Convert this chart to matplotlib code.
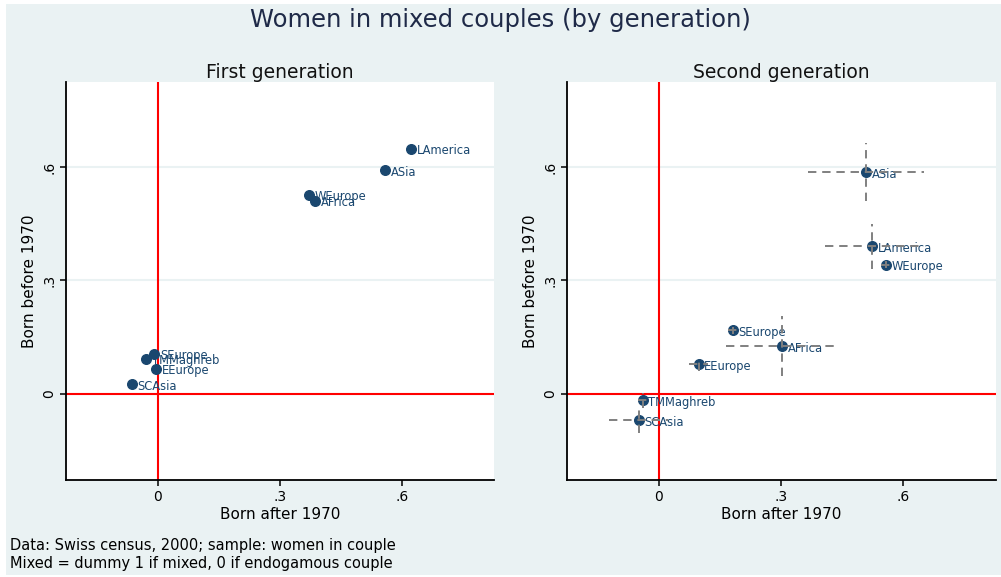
import matplotlib.pyplot as plt
from matplotlib.patches import Rectangle

# first generation: point estimates
names1 = ["LAmerica", "ASia", "WEurope", "AFrica", "SEurope", "TMMaghreb", "EEurope", "SCAsia"]
after1 = [0.623, 0.560, 0.372, 0.388, -0.008, -0.028, -0.004, -0.063]
before1 = [0.649, 0.591, 0.527, 0.511, 0.106, 0.093, 0.067, 0.026]

# second generation: point estimates and half-width of the intervals
names2 = ["ASia", "LAmerica", "WEurope", "SEurope", "AFrica", "EEurope", "TMMaghreb", "SCAsia"]
after2 = [0.509, 0.523, 0.557, 0.181, 0.303, 0.098, -0.039, -0.049]
before2 = [0.586, 0.390, 0.342, 0.168, 0.126, 0.079, -0.017, -0.070]
xerr2 = [0.142, 0.116, 0.012, 0.012, 0.137, 0.023, 0.012, 0.072]
yerr2 = [0.077, 0.060, 0.010, 0.010, 0.079, 0.019, 0.020, 0.034]

ticks = [0, 0.3, 0.6]
tick_labels = ["0", ".3", ".6"]

bg = "#eaf2f3"
navy = "#1a476f"
dash = (0, (4.3, 3))

fig = plt.figure(figsize=(10.01, 5.77), dpi=100, facecolor="white")
# graph region (thin white margin around it)
fig.patches.append(Rectangle((6 / 1001, 2 / 577), 995 / 1001, 571 / 577,
                             transform=fig.transFigure, facecolor=bg, edgecolor="none", zorder=-1))
ax1 = fig.add_axes([0.0659, 0.1681, 0.4276, 0.6898])
ax2 = fig.add_axes([0.5664, 0.1681, 0.4286, 0.6898])


def draw_panel(ax, title, names, xs, ys, xerr=None, yerr=None):
    ax.set_facecolor("white")
    ax.set_xlim(-0.225, 0.827)
    ax.set_ylim(-0.228, 0.825)
    ax.grid(axis="y", color=bg, lw=1.5, zorder=0)
    ax.set_axisbelow(True)
    ax.axvline(0, color="red", lw=1.5, zorder=1)
    ax.axhline(0, color="red", lw=1.5, zorder=1)
    ax.scatter(xs, ys, s=48, color=navy, zorder=3)
    for n, x, y in zip(names, xs, ys):
        ax.annotate(n, (x, y), xytext=(4, -1.5), textcoords="offset points",
                    ha="left", va="center", fontsize=8.3, color=navy, zorder=4)
    if xerr is not None:
        eb = ax.errorbar(xs, ys, xerr=xerr, yerr=yerr, fmt="none", ecolor="#808080",
                         elinewidth=1.4, capsize=0, zorder=5)
        for c in eb.lines[2]:
            c.set_linestyle(dash)
    for s in ["top", "right"]:
        ax.spines[s].set_visible(False)
    for s in ["left", "bottom"]:
        ax.spines[s].set_linewidth(1.3)
    ax.set_xticks(ticks, tick_labels, fontsize=10)
    ax.set_yticks(ticks, tick_labels, fontsize=10, rotation=90, va="center")
    ax.tick_params(direction="out", length=4, width=1.1, pad=3)
    ax.set_xlabel("Born after 1970", fontsize=11, labelpad=2)
    ax.set_ylabel("Born before 1970", fontsize=11, labelpad=4)
    ax.set_title(title, fontsize=13.5, pad=3, color="#111111")


draw_panel(ax1, "First generation", names1, after1, before1)
draw_panel(ax2, "Second generation", names2, after2, before2, xerr2, yerr2)

fig.text(0.5, 0.965, "Women in mixed couples (by generation)", ha="center", va="center",
         fontsize=17.5, color="#1f2a48")
fig.text(0.01, 0.055, "Data: Swiss census, 2000; sample: women in couple", fontsize=10.5,
         va="center")
fig.text(0.01, 0.023, "Mixed = dummy 1 if mixed, 0 if endogamous couple", fontsize=10.5,
         va="center")

fig.savefig("out.png", dpi=100)
